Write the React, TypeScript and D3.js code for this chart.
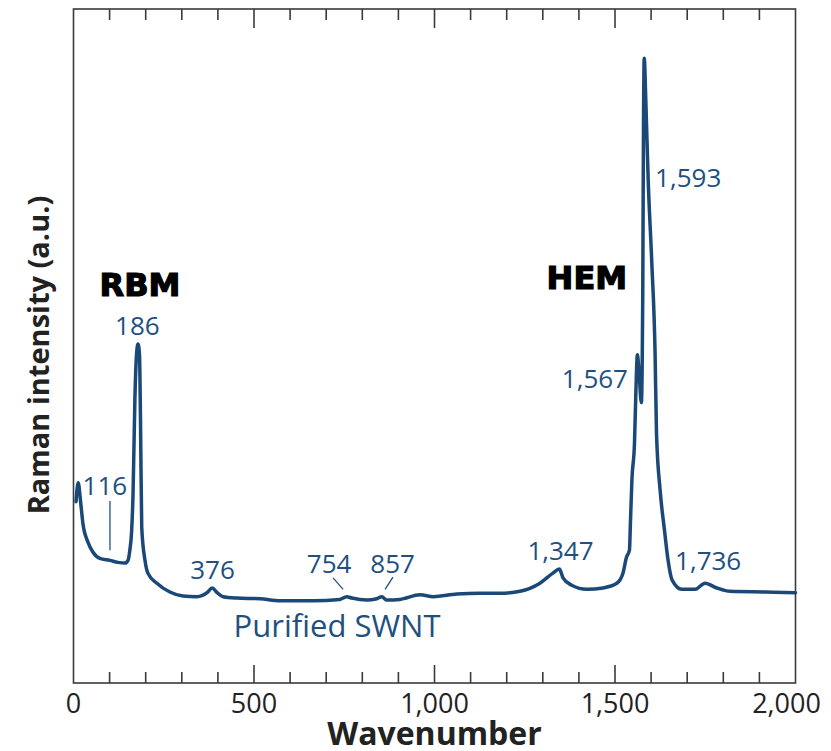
import React from "react";
import * as d3 from "d3";

// Raman spectrum of purified SWNT
const wavenumbers = [
  7, 13, 20, 26, 40, 54, 73, 101, 123, 143, 151, 156, 161, 165, 170, 174.5, 178.7, 182.8, 185.6, 189,
  198, 206, 231, 267, 303, 342, 370, 384, 398, 414, 453, 517, 572, 663, 738, 757, 771, 812, 840, 854,
  868, 904, 960, 997, 1062, 1126, 1181, 1237, 1292, 1328, 1346, 1356, 1380, 1422, 1467, 1505, 1522,
  1532, 1540, 1543, 1547, 1554, 1558, 1562, 1566, 1573, 1577, 1579, 1581, 1585, 1592, 1602, 1611,
  1615, 1625, 1637, 1647, 1658, 1685, 1722, 1749, 1782, 1819, 1920, 2000,
];
const intensities = [
  26.9, 29.7, 26.7, 23.7, 20.9, 19.4, 18.5, 18.2, 17.9, 17.8, 18.2, 19.7, 22.5, 28.2, 42.0, 48.7, 50.3,
  48.7, 39.0, 23.1, 18.2, 16.3, 14.8, 13.5, 12.9, 12.8, 13.4, 14.1, 13.4, 12.8, 12.6, 12.5, 12.2, 12.2,
  12.4, 12.8, 12.6, 12.3, 12.5, 12.8, 12.3, 12.4, 13.1, 12.8, 13.2, 13.3, 13.3, 13.6, 14.8, 16.3, 16.9,
  15.6, 14.5, 13.9, 14.1, 14.8, 16.3, 18.7, 19.7, 24.2, 30.3, 35.6, 43.5, 48.7, 46.6, 41.6, 58.8, 83.5,
  92.7, 87.1, 74.5, 62.3, 49.0, 37.0, 28.6, 22.7, 18.2, 15.3, 13.9, 13.9, 14.8, 14.1, 13.6, 13.5, 13.4,
];

// peak labels: text, wavenumber, intensity (baseline), anchor
const peakLabels: [string, number, number, string][] = [
  ["116", 87, 27.9, "middle"],
  ["186", 177, 51.6, "middle"],
  ["376", 385, 15.5, "middle"],
  ["754", 708, 16.3, "middle"],
  ["857", 884, 16.3, "middle"],
  ["1,347", 1349, 18.2, "middle"],
  ["1,567", 1536, 43.7, "end"],
  ["1,593", 1611, 73.6, "start"],
  ["1,736", 1758, 16.7, "middle"],
];
// leader lines: x1, y1, x2, y2 in data units
const leaders = [
  [101, 27.0, 101, 19.7],
  [719, 15.6, 747, 13.9],
  [885, 15.7, 863, 13.9],
];
const bandLabels: [string, number, number][] = [
  ["RBM", 184, 57.4],
  ["HEM", 1422, 58.4],
];
const sampleLabel: [string, number, number] = ["Purified SWNT", 730, 6.8];

const majorTicks = [500, 1000, 1500];
const minorTicks = d3.range(100, 2000, 100).filter((t) => t % 500 !== 0);
const tickLabels = [0, 500, 1000, 1500, 2000];

export default function App() {
  const width = 831;
  const height = 751;
  const margin = { top: 9, right: 35.5, bottom: 68, left: 73.5 };
  const x = d3.scaleLinear().domain([0, 2000]).range([margin.left, width - margin.right]);
  const y = d3.scaleLinear().domain([0, 100]).range([height - margin.bottom, margin.top]);

  const blue = "#1a4877";
  const labelBlue = "#21507f";
  const axisColor = "#3a3a3a";

  const pts = wavenumbers.map((w, i) => [w, intensities[i]] as [number, number]);
  const line = d3
    .line<[number, number]>()
    .x((d) => x(d[0]))
    .y((d) => y(d[1]))
    .curve(d3.curveMonotoneX);

  const y0 = y(0);
  const y1 = y(100);
  const fmt = d3.format(",");

  return (
    <svg
      width={width}
      height={height}
      style={{ position: "absolute", left: 0, top: 0, background: "#fff" }}
    >
      {/* frame */}
      <rect
        x={x(0)}
        y={y1}
        width={x(2000) - x(0)}
        height={y0 - y1}
        fill="none"
        stroke={axisColor}
        strokeWidth={1.6}
      />
      {/* ticks, inward on bottom and top */}
      {majorTicks.map((t) => (
        <g key={"M" + t} stroke={axisColor} strokeWidth={1.6}>
          <line x1={x(t)} x2={x(t)} y1={y0} y2={y0 - 18} />
          <line x1={x(t)} x2={x(t)} y1={y1} y2={y1 + 19} />
        </g>
      ))}
      {minorTicks.map((t) => (
        <g key={"m" + t} stroke={axisColor} strokeWidth={1.6}>
          <line x1={x(t)} x2={x(t)} y1={y0} y2={y0 - 11} />
          <line x1={x(t)} x2={x(t)} y1={y1} y2={y1 + 11} />
        </g>
      ))}
      {tickLabels.map((t) => (
        <text
          key={"l" + t}
          x={x(t) - (t === 2000 ? 9 : 0)}
          y={713}
          textAnchor="middle"
          fontFamily="'Open Sans', sans-serif"
          fontSize={27}
          fill="#222"
        >
          {fmt(t)}
        </text>
      ))}
      <text
        x={(x(0) + x(2000)) / 2}
        y={745}
        textAnchor="middle"
        fontFamily="'Open Sans', sans-serif"
        fontWeight={700}
        fontSize={32}
        fill="#222"
      >
        Wavenumber
      </text>
      <text
        transform={`translate(49,${(y0 + y1) / 2 + 9}) rotate(-90)`}
        textAnchor="middle"
        fontFamily="'Open Sans', sans-serif"
        fontWeight={700}
        fontSize={29}
        fill="#222"
      >
        Raman intensity (a.u.)
      </text>

      {/* spectrum */}
      <path
        d={line(pts) || ""}
        fill="none"
        stroke={blue}
        strokeWidth={3.5}
        strokeLinejoin="round"
        strokeLinecap="round"
      />

      {leaders.map((l, i) => (
        <line
          key={"ld" + i}
          x1={x(l[0])}
          y1={y(l[1])}
          x2={x(l[2])}
          y2={y(l[3])}
          stroke={labelBlue}
          strokeWidth={1.3}
        />
      ))}
      {peakLabels.map(([t, w, v, a]) => (
        <text
          key={t}
          x={x(w)}
          y={y(v)}
          textAnchor={a as any}
          fontFamily="'Open Sans', sans-serif"
          fontSize={26}
          fill={labelBlue}
        >
          {t}
        </text>
      ))}
      {bandLabels.map(([t, w, v]) => (
        <text
          key={t}
          x={x(w)}
          y={y(v)}
          textAnchor="middle"
          fontFamily="'DejaVu Sans', sans-serif"
          fontWeight={700}
          fontSize={32}
          fill="#000"
          stroke="#000"
          strokeWidth={1.2}
        >
          {t}
        </text>
      ))}
      <text
        x={x(sampleLabel[1])}
        y={y(sampleLabel[2])}
        textAnchor="middle"
        fontFamily="'Open Sans', sans-serif"
        fontSize={31}
        fill={labelBlue}
      >
        {sampleLabel[0]}
      </text>
    </svg>
  );
}
